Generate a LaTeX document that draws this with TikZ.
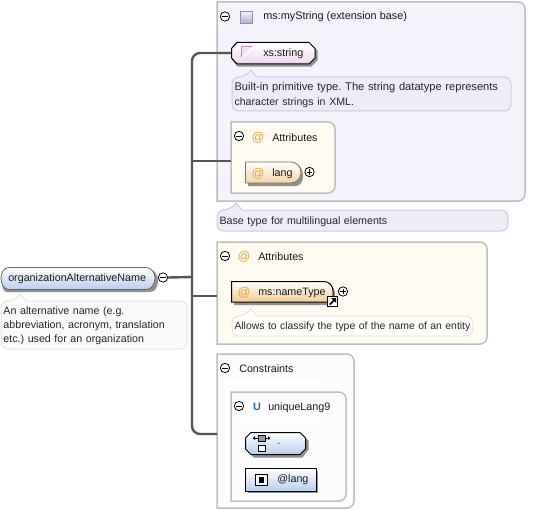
\documentclass[tikz,border=0pt]{standalone}
\usepackage{fontspec}
\setmainfont{Liberation Sans}
\frenchspacing
\definecolor{bord}{HTML}{BEBEBE}
\definecolor{pan}{HTML}{F4F2FA}
\definecolor{cream}{HTML}{FFFBF0}
\definecolor{sep}{HTML}{C8C8C8}
\definecolor{docl}{HTML}{EEECF6}
\definecolor{docb}{HTML}{CFCBDF}
\definecolor{docw}{HTML}{E4E4E4}
\definecolor{lin}{HTML}{555555}
\definecolor{blu}{HTML}{B9CDEE}
\definecolor{org}{HTML}{E9A33A}
\definecolor{pnk}{HTML}{EAD9EC}
\definecolor{shd}{HTML}{909090}
\definecolor{icv}{HTML}{B9AEDC}
\definecolor{ublue}{HTML}{2A6AA8}
\newcommand{\sz}[1]{\fontsize{#1}{#1}\selectfont}
\newcommand{\docfs}{8}
\newcommand{\panelbox}[7]{% name x1 y1 x2 y2 fill border
  \draw[line width=1.5pt*0.75,draw=#7,fill=#6] (#2,#3) -- ({#4-7},#3) to[out=0,in=90] (#4,{#3+7}) -- (#4,{#5-7}) to[out=-90,in=0] ({#4-7},#5) -- (#2,#5) -- cycle;
  \node[inner sep=0pt,minimum width={(#4-#2)*0.75pt},minimum height={(#5-#3)*0.75pt}] (#1) at ({(#2+#4)/2},{(#3+#5)/2}) {};
}
\newcommand{\sepline}[4]{% x1 x2 y col
  \shade[left color=#4,middle color=sep,right color=#4] (#1,#3) rectangle (#2,#3+2);
}
\newcommand{\docbox}[9]{% name x1 y1 x2 y2 notch-x fill border text
  \draw[draw=#8,fill=#7,line width=0.75pt,rounded corners=5.25pt] (#2,#3) -- ({#6-6},#3) [sharp corners] -- (#6,{#3-7}) -- ({#6+6},#3) [rounded corners=5.25pt] -- (#4,#3) -- (#4,#5) -- (#2,#5) -- cycle;
  \node[inner sep=0pt,minimum width={(#4-#2)*0.75pt},minimum height={(#5-#3)*0.75pt},text width={(#4-#2-5)*0.75pt},align=left,font=\sz{\docfs},text=black!85] (#1) at ({(#2+#4)/2},{(#3+#5)/2+1}) {#9};
}
\tikzset{x=0.75pt,y=-0.75pt,
  togm/.style={circle,draw=black,fill=white,line width=0.6pt,minimum size=7pt,inner sep=0pt,
    path picture={\draw[line width=0.6pt] ([xshift=-2pt]path picture bounding box.center)--([xshift=2pt]path picture bounding box.center);}},
  togp/.style={togm,path picture={\draw[line width=0.6pt] ([xshift=-2pt]path picture bounding box.center)--([xshift=2pt]path picture bounding box.center);\draw[line width=0.6pt] ([yshift=-2pt]path picture bounding box.center)--([yshift=2pt]path picture bounding box.center);}},
  lab/.style={inner sep=0pt,anchor=west,font=\sz{8.05},text=black!90},
  at sign/.style={inner sep=0pt,anchor=center,font=\sz{9.5},text=org},
  trunk/.style={draw=lin,line width=1.8pt},
  thin link/.style={draw=lin,line width=0.9pt}
}
\begin{document}
\begin{tikzpicture}
\useasboundingbox (0,0) rectangle (543,510);
\fill[white] (0,0) rectangle (543,510);

\coordinate (tr) at (192,277);
\coordinate (a1) at (217,161);
\coordinate (a2) at (217,296);
\coordinate (a3) at (217,434);
\coordinate (a1in) at (231,161);
\coordinate (xsin) at (231,53);

% panel 1
\panelbox{p1}{217}{2}{525}{201}{pan}{bord}
\node[togm] (m1) at (225,16.5) {};
\shade[top color=pnk!40,bottom color=icv,draw=icv!80!black,line width=0.6pt] (240,11) rectangle (252,23);
\node[lab,font=\sz{8.15}] (t1) at (263,17) {ms:myString (extension base)};
\sepline{222}{425}{30}{pan}

% xs:string
\draw[draw=shd,fill=shd,line width=1pt] (234,45) -- (311,45) -- (317,51) -- (317,60) -- (311,66) -- (238,66) -- (233,60) -- cycle;
\shade[top color=white,bottom color=pnk,draw=black,line width=0.75pt] (237,42.5) -- (309,42.5) -- (315,48.5) -- (315,58) -- (309,64) -- (237,64) -- (231.5,58) -- (231.5,48.5) -- cycle;
\node[inner sep=0pt,minimum width=63pt,minimum height=16pt] (xs) at (273,53) {};
\fill[pnk!70] (241,46) -- (254,46) -- (241,59) -- cycle;
\draw[violet!45,line width=0.6pt] (241,59) -- (241,46) -- (254,46);
\draw[white,line width=0.8pt] (241,59) -- (254,46);
\node[lab] (t2) at (263,54) {xs:string};

\renewcommand{\docfs}{8.35}
\docbox{d1}{232}{77}{511}{111}{251}{docl}{docb}{Built-in primitive type. The string datatype represents\\[2.4pt]\sz{7.95}character strings in XML.}

% Attributes 1
\panelbox{p1a}{231}{122}{335}{193}{cream}{bord}
\node[togm] (m2) at (239,136) {};
\node[at sign] (at1) at (258,137.5) {@};
\node[lab] (t3) at (272,138) {Attributes};
\sepline{236}{312}{150}{cream}
\fill[shd] (248,165) -- (296,165) to[out=0,in=90] (303,176) to[out=-90,in=0] (296,186) -- (248,186) -- cycle;
\shade[top color=white,bottom color=org!45,draw=black!55,line width=0.6pt] (245.5,162) -- (291,162) to[out=0,in=90] (301,172.5) to[out=-90,in=0] (291,183) -- (245.5,183) -- cycle;
\node[inner sep=0pt,minimum width=41pt,minimum height=15pt] (lang) at (273,172.5) {};
\node[at sign] (at2) at (258,173.5) {@};
\node[lab] (t4) at (272,174) {lang};
\node[togp] (pl1) at (309.5,172) {};

\renewcommand{\docfs}{8}
\docbox{d2}{217}{210}{508}{231}{236}{docl}{docb}{Base type for multilingual elements}

% panel 2
\panelbox{p2}{217}{242}{487}{344}{cream}{bord}
\node[togm] (m3) at (225,256) {};
\node[at sign] (at3) at (244,257) {@};
\node[lab] (t5) at (258,257) {Attributes};
\sepline{222}{418}{270}{cream}
\fill[shd] (234,284) -- (326,284) to[out=0,in=90] (335,293) -- (335,305) -- (234,305) -- cycle;
\shade[top color=white,bottom color=org!55,draw=black,line width=0.75pt] (231.5,281.5) -- (324,281.5) to[out=0,in=90] (333,291) -- (333,302) -- (231.5,302) -- cycle;
\node[inner sep=0pt,minimum width=76pt,minimum height=15pt] (nt) at (282,292) {};
\node[at sign] (at4) at (244,292.5) {@};
\node[lab] (t6) at (258,293) {ms:nameType};
\node[togp] (pl2) at (343,291.5) {};
\node[draw=black,fill=white,line width=0.75pt,minimum size=8pt,inner sep=0pt] (sc) at (332.5,301.5) {};
\fill[black] (329,304) -- (333,300) -- (331,298) -- (336,298) -- (336,303) -- (334.5,301) -- (330.5,305) -- cycle;

\renewcommand{\docfs}{7.8}
\docbox{d3}{232}{316}{473}{336}{251}{white!70!cream}{docw}{\mbox{Allows to classify the type of the name of an entity}}

% constraints
\panelbox{p3}{217}{354}{354}{508}{white!70!pan}{bord}
\node[togm] (m4) at (225,368) {};
\node[lab] (t7) at (239,369) {Constraints};
\sepline{222}{322}{381}{white}
\panelbox{p3u}{231}{392}{346}{501}{white!70!pan}{bord}
\node[togm] (m5) at (239,406) {};
\node[inner sep=0pt,anchor=center,font=\bfseries\sz{8.15},text=ublue] (u) at (257,407) {U};
\node[lab] (t8) at (268,407.5) {uniqueLang9};
\sepline{236}{320}{420}{white}

% selector
\draw[draw=shd,fill=shd,line width=1pt] (251,435) -- (302,435) -- (308,441) -- (308,449) -- (302,457) -- (254,457) -- (248,449) -- (248,441) -- cycle;
\shade[top color=white,bottom color=blu,draw=black,line width=0.75pt] (251,432.5) -- (300,432.5) -- (305.5,438) -- (305.5,449) -- (300,454.5) -- (251,454.5) -- (245.5,449) -- (245.5,438) -- cycle;
\node[inner sep=0pt,minimum width=45pt,minimum height=16pt] (sel) at (275,443.5) {};
\fill[gray!80] (258,435) rectangle (265,441);
\draw[black,line width=0.5pt] (258,435) rectangle (265,441);
\draw[black,line width=0.7pt] (253,438) -- (258,438) (265,438) -- (270,438);
\fill[black] (253,438) -- (255,436) -- (255,440) -- cycle (270,438) -- (268,436) -- (268,440) -- cycle;
\draw[black,fill=white,line width=0.6pt] (258,445) rectangle (265,451);
\node[lab] (t9) at (277,444) {.};

% field
\fill[shd] (248,471) rectangle (318,493);
\shade[top color=white,bottom color=blu,draw=black,line width=0.75pt] (245.5,468.5) rectangle (316,491);
\node[inner sep=0pt,minimum width=52pt,minimum height=16pt] (fld) at (281,480) {};
\draw[black,fill=white,line width=0.7pt] (255.5,474) rectangle (267,485.5);
\fill[black] (258.5,477) rectangle (264,482.5);
\node[lab] (t10) at (277,480) {@lang};

% root
\fill[shd] (7,270) -- (150,270) to[out=0,in=90] (158,281) to[out=-90,in=0] (150,292) -- (7,292) to[out=180,in=-90] (2,281) -- cycle;
\shade[top color=white,bottom color=blu,draw=black!60,line width=0.6pt] (9,267.5) -- (146,267.5) to[out=0,in=90] (155,278) to[out=-90,in=0] (146,289.5) -- (9,289.5) to[out=180,in=-90] (1,278) to[out=90,in=180] cycle;
\node[inner sep=0pt,minimum width=110pt,minimum height=16pt] (root) at (78,278.5) {};
\node[lab] (t11) at (8,279) {organizationAlternativeName};
\node[togm] (m0) at (163,277.5) {};
\renewcommand{\docfs}{8}
\docbox{d0}{1}{301}{187}{349}{20}{white!98!black}{docw}{An alternative name (e.g.\\[2.6pt]abbreviation, acronym, translation\\[2.6pt]etc.) used for an organization}

% connectors
\draw[trunk,rounded corners=6pt] (xsin) -| (tr) |- (a3);
\draw[trunk] (a1 -| tr) -- (a1);
\draw[trunk] (a2 -| tr) -- (a2);
\draw[trunk] (m0.east) -- (tr);
\draw[thin link] (a1) -- (a1in);
\end{tikzpicture}
\end{document}
